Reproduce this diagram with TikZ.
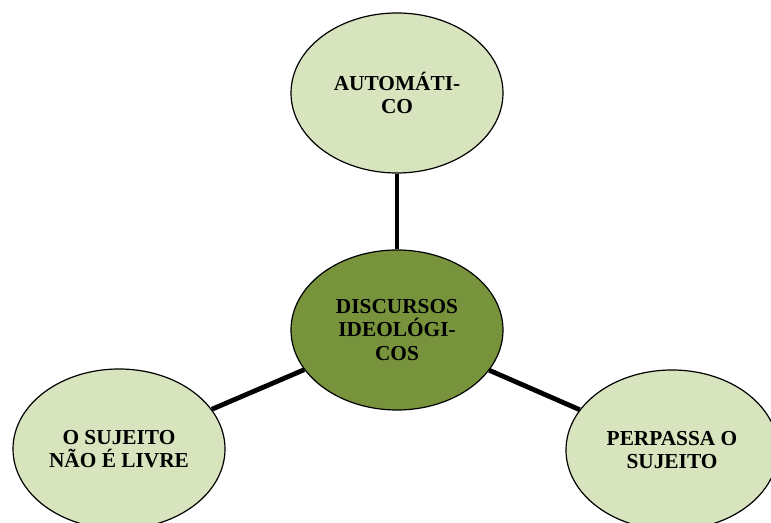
\documentclass[tikz,border=0pt]{standalone}
\usepackage{fontspec}
\setmainfont{Liberation Serif}
\usetikzlibrary{shapes.geometric}
\definecolor{lg}{RGB}{215,228,189}
\definecolor{dg}{RGB}{119,147,60}
\tikzset{leaf/.style={ellipse,draw,fill=lg,line width=.9pt,minimum width=159pt,minimum height=120pt,
  align=center,inner sep=0pt,font=\fontsize{16}{17.5}\selectfont\bfseries},
 hub/.style={leaf,fill=dg},
 wire/.style={line width=3.6pt}}
\begin{document}
\begin{tikzpicture}[x=.75pt,y=-.75pt]
\useasboundingbox (0,0) rectangle (771,523);
\node[hub] (c) at (397,330) {DISCURSOS\\IDEOLÓGI-\\COS};
\node[leaf] (t) at (397,93) {AUTOMÁTI-\\CO};
\node[leaf] (l) at (119,449) {O SUJEITO\\NÃO É  LIVRE};
\node[leaf] (r) at (672,450) {PERPASSA O\\SUJEITO};
\draw[wire] (t)--(c);\draw[wire] (c)--(l);\draw[wire] (c)--(r);
\end{tikzpicture}
\end{document}
